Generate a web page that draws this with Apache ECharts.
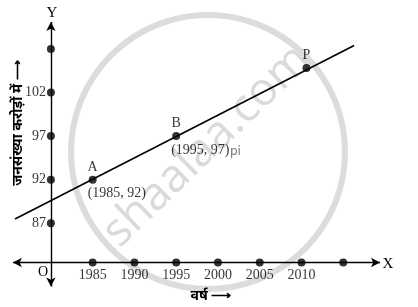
<!DOCTYPE html>
<html><head><meta charset="utf-8">
<script src="https://cdn.jsdelivr.net/npm/echarts@6/dist/echarts.min.js"></script>
<style>html,body{margin:0;padding:0;background:#fff}#c{width:418px;height:307px}</style>
</head><body><div id="c"></div>
<script>
// ---- data ----
const xTickYears = [1985, 1990, 1995, 2000, 2005, 2010, 2015];
const xTickLabels = ['1985', '1990', '1995', '2000', '2005', '2010', ''];
const yTickValues = [87, 92, 97, 102, 107];
const yTickLabels = ['87', '92', '97', '102', ''];
const pointNames = ['A', 'B', 'P'];
const pointYears = [1985, 1995, 2010.6];
const pointValues = [92, 97, 104.8];
const pointCoordLabels = ['(1985, 92)', '(1995, 97)', ''];
const lineYears = [1975.7, 2016.3];
const lineValues = [87.5, 107.4];
const originYear = 1980;      // where the Y axis crosses
const originValue = 82.5;     // where the X axis crosses
const xAxisEnds = [1975.45, 2019.4];
const yAxisEnds = [79.75, 110.1];
const xTitle = 'वर्ष ⟶';
const yTitle = 'जनसंख्या करोड़ों में ⟶';

const serif = '"Liberation Serif","DejaVu Serif",serif';
const deva = '"Noto Sans Devanagari","Noto Sans","Lohit Devanagari",sans-serif';

const chart = echarts.init(document.getElementById('c'), null, {renderer: 'canvas'});
chart.setOption({
  backgroundColor: '#fff',
  animation: false,
  grid: {left: 0, right: 0, top: 0, bottom: 0},
  xAxis: {type: 'value', min: 1973.906, max: 2023.95, show: false},
  yAxis: {type: 'value', min: 77.40, max: 112.61, show: false},
  graphic: [
    {type: 'circle', z: 0, shape: {cx: 208, cy: 152, r: 137}, style: {fill: 'none', stroke: '#dcdcdc', lineWidth: 6}},
    {type: 'text', z: 0, x: 207, y: 146, rotation: Math.PI * 0.245, originX: 0, originY: 0,
      style: {text: 'shaalaa.com', fill: '#dadada', font: '46px "Open Sans", "DejaVu Sans", sans-serif', align: 'center', verticalAlign: 'middle'}},
    {type: 'text', z: 5, x: 52, y: 13, style: {text: 'Y', fill: '#000', font: '15px ' + serif, align: 'center', verticalAlign: 'middle'}},
    {type: 'text', z: 5, x: 388, y: 264, style: {text: 'X', fill: '#000', font: '15px ' + serif, align: 'center', verticalAlign: 'middle'}},
    {type: 'text', z: 5, x: 43, y: 272, style: {text: 'O', fill: '#000', font: '14px ' + serif, align: 'center', verticalAlign: 'middle'}},
    {type: 'text', z: 5, x: 211, y: 297, style: {text: xTitle, fill: '#000', font: 'bold 14px ' + deva, align: 'center', verticalAlign: 'middle'}},
    {type: 'text', z: 5, x: 19, y: 123, rotation: Math.PI / 2, style: {text: yTitle, fill: '#000', font: 'bold 14px ' + deva, align: 'center', verticalAlign: 'middle'}},
    {type: 'text', z: 5, x: 230, y: 152, style: {text: 'pi', fill: '#777', font: '12px "DejaVu Sans", sans-serif', align: 'left', verticalAlign: 'middle'}}
  ],
  series: [
    {
      type: 'line', z: 3, symbol: 'none',
      data: lineYears.map((x, i) => [x, lineValues[i]]),
      lineStyle: {color: '#000', width: 1.6},
      markLine: {
        silent: true, symbol: ['arrow', 'arrow'], symbolSize: [7, 9],
        label: {show: false},
        lineStyle: {color: '#000', width: 1.4, type: 'solid'},
        data: [
          [{coord: [xAxisEnds[0], originValue]}, {coord: [xAxisEnds[1], originValue]}],
          [{coord: [originYear, yAxisEnds[0]]}, {coord: [originYear, yAxisEnds[1]]}]
        ]
      }
    },
    {
      type: 'scatter', z: 4, symbolSize: 8, itemStyle: {color: '#000'},
      data: xTickYears.map((x, i) => ({value: [x, originValue], name: xTickLabels[i]})),
      label: {show: true, position: 'bottom', distance: 2, formatter: p => p.name, color: '#000', fontFamily: serif, fontSize: 14}
    },
    {
      type: 'scatter', z: 4, symbolSize: 8, itemStyle: {color: '#000'},
      data: yTickValues.map((v, i) => ({value: [originYear, v], name: yTickLabels[i]})),
      label: {show: true, position: 'left', distance: 1, formatter: p => p.name, color: '#000', fontFamily: serif, fontSize: 14}
    },
    {
      type: 'scatter', z: 4, symbolSize: 8, itemStyle: {color: '#000'},
      data: pointYears.map((x, i) => ({value: [x, pointValues[i]], name: pointNames[i]})),
      label: {show: true, position: 'top', distance: 1.5, formatter: p => p.name, color: '#000', fontFamily: serif, fontSize: 14}
    },
    {
      type: 'scatter', z: 4, symbolSize: 0,
      data: pointYears.map((x, i) => ({value: [x, pointValues[i]], name: pointCoordLabels[i]})),
      label: {show: true, position: 'inside', align: 'left', verticalAlign: 'middle', offset: [-5, 14], formatter: p => p.name, color: '#000', fontFamily: serif, fontSize: 14}
    }
  ]
});
</script></body></html>
